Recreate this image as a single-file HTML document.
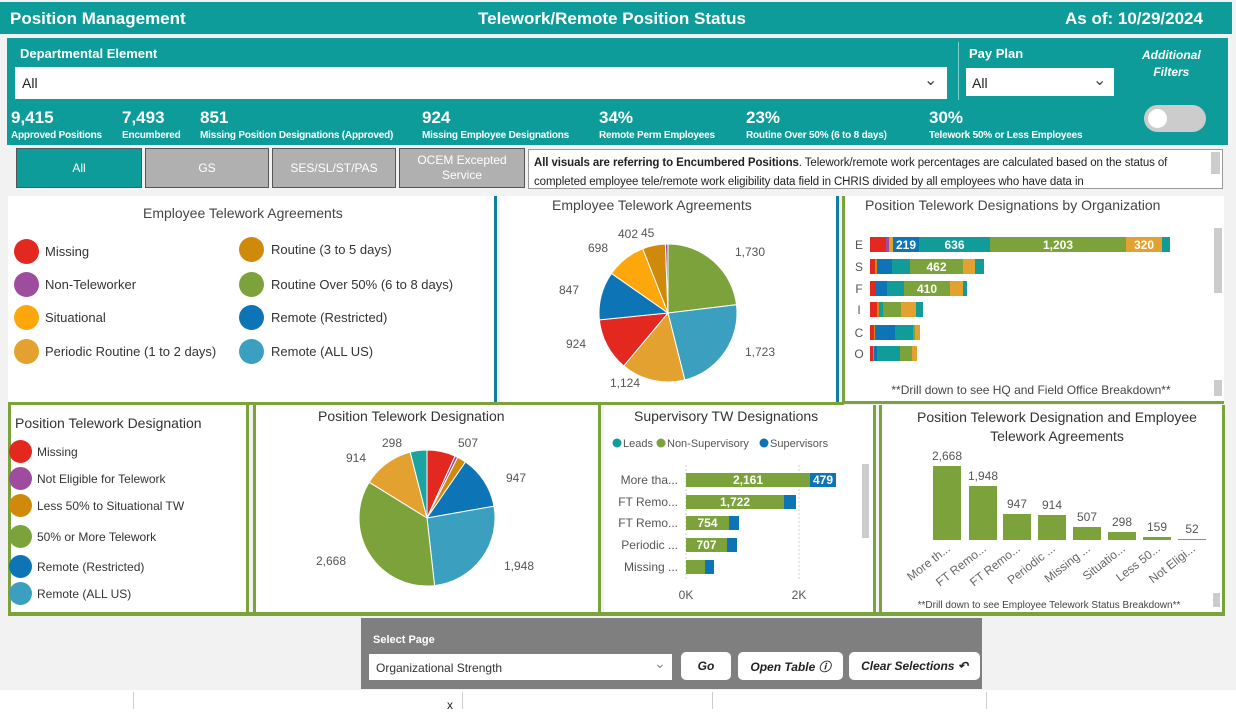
<!DOCTYPE html>
<html><head><meta charset="utf-8">
<style>
*{margin:0;padding:0;box-sizing:border-box}
body{width:1236px;height:709px;position:relative;overflow:hidden;background:#fff;font-family:"Liberation Sans",sans-serif;color:#333}
.a{position:absolute;white-space:nowrap}
.t{color:#fff}
.b{font-weight:bold}
.k{font-size:10px;letter-spacing:-0.2px}
.tab{position:absolute;top:148px;height:40px;border:1px solid #555;font-size:12px;text-align:center;display:flex;align-items:center;justify-content:center;line-height:15px}
.panel{position:absolute;background:#fff}
.lg{position:absolute;font-size:13px;color:#333}
.dot{position:absolute;border-radius:50%}
.btn{position:absolute;top:652px;height:28px;background:#fff;border-radius:5px;font-size:12px;font-weight:bold;font-style:italic;display:flex;align-items:center;justify-content:center;color:#222}
</style></head><body>
<div class="a" style="left:0;top:0;width:1236px;height:709px;background:#f2f2f2"></div>
<div class="a" style="left:0;top:2px;width:1232px;height:32px;background:#0e9c9a"></div>
<div class="a t b" style="left:10px;top:9px;font-size:17px">Position Management</div>
<div class="a t b" style="left:478px;top:9px;font-size:17px">Telework/Remote Position Status</div>
<div class="a t b" style="left:1065px;top:9px;font-size:17px">As of: 10/29/2024</div>
<div class="a" style="left:7px;top:38px;width:1221px;height:107px;background:#0e9c9a"></div>
<div class="a t b" style="left:20px;top:46px;font-size:13px">Departmental Element</div>
<div class="a" style="left:15px;top:67px;width:932px;height:32px;background:#fff"></div>
<div class="a" style="left:22px;top:75px;font-size:14px;color:#222">All</div>
<div class="a" style="left:924px;top:70px;font-size:16px;color:#444">&#8964;</div>
<div class="a" style="left:958px;top:42px;width:1px;height:58px;background:#7fcfcd"></div>
<div class="a t b" style="left:969px;top:46px;font-size:13px">Pay Plan</div>
<div class="a" style="left:966px;top:68px;width:148px;height:28px;background:#fff"></div>
<div class="a" style="left:972px;top:75px;font-size:14px;color:#222">All</div>
<div class="a" style="left:1093px;top:70px;font-size:16px;color:#444">&#8964;</div>
<div class="a t b" style="left:1142px;top:47px;font-size:12px;font-style:italic;text-align:center;line-height:17px">Additional<br>Filters</div>
<div class="a" style="left:1144px;top:105px;width:62px;height:27px;border-radius:14px;background:#ccc"></div>
<div class="a" style="left:1148px;top:109px;width:19px;height:19px;border-radius:50%;background:#fff"></div>
<div class="a t b" style="left:11px;top:108px;font-size:17px">9,415</div><div class="a t b k" style="left:11px;top:130px">Approved Positions</div>
<div class="a t b" style="left:122px;top:108px;font-size:17px">7,493</div><div class="a t b k" style="left:122px;top:130px">Encumbered</div>
<div class="a t b" style="left:200px;top:108px;font-size:17px">851</div><div class="a t b k" style="left:200px;top:130px">Missing Position Designations (Approved)</div>
<div class="a t b" style="left:422px;top:108px;font-size:17px">924</div><div class="a t b k" style="left:422px;top:130px">Missing Employee Designations</div>
<div class="a t b" style="left:599px;top:108px;font-size:17px">34%</div><div class="a t b k" style="left:599px;top:130px">Remote Perm Employees</div>
<div class="a t b" style="left:746px;top:108px;font-size:17px">23%</div><div class="a t b k" style="left:746px;top:130px">Routine Over 50% (6 to 8 days)</div>
<div class="a t b" style="left:929px;top:108px;font-size:17px">30%</div><div class="a t b k" style="left:929px;top:130px">Telework 50% or Less Employees</div>
<div class="tab" style="left:16px;width:126px;background:#0e9c9a;color:#fff">All</div>
<div class="tab" style="left:145px;width:124px;background:#b0b0b0;color:#fff">GS</div>
<div class="tab" style="left:272px;width:124px;background:#b0b0b0;color:#fff">SES/SL/ST/PAS</div>
<div class="tab" style="left:399px;width:126px;background:#b0b0b0;color:#fff">OCEM Excepted<br>Service</div>
<div class="a" style="left:528px;top:149px;width:695px;height:40px;background:#fff;border:1px solid #999;overflow:hidden"></div>
<div class="a" style="left:534px;top:154px;font-size:11.5px;color:#222;line-height:19px;width:675px;height:34px;overflow:hidden;white-space:normal;letter-spacing:-0.1px"><b>All visuals are referring to Encumbered Positions</b>. Telework/remote work percentages are calculated based on the status of completed employee tele/remote work eligibility data field in CHRIS divided by all employees who have data in</div>
<div class="a" style="left:1211px;top:152px;width:9px;height:22px;background:#ccc"></div>
<div class="panel" style="left:8px;top:196px;width:486px;height:206px"></div>
<div class="a" style="left:494px;top:196px;width:3px;height:206px;background:#0e7fa3"></div>
<div class="panel" style="left:500px;top:196px;width:336px;height:206px"></div>
<div class="a" style="left:836px;top:196px;width:3px;height:206px;background:#0e7fa3"></div>
<div class="panel" style="left:842px;top:196px;width:382px;height:208px;border-left:3px solid #7ca23b;border-bottom:3px solid #7ca23b"></div>
<div class="a" style="left:8px;top:402px;width:836px;height:3px;background:#7ca23b"></div>
<div class="a" style="left:143px;top:205px;font-size:14px;color:#444">Employee Telework Agreements</div>
<div class="dot" style="left:14px;top:239px;width:25px;height:25px;background:#e3281f"></div><div class="lg" style="left:45px;top:244px">Missing</div>
<div class="dot" style="left:14px;top:272px;width:25px;height:25px;background:#9e4c9e"></div><div class="lg" style="left:45px;top:277px">Non-Teleworker</div>
<div class="dot" style="left:14px;top:305px;width:25px;height:25px;background:#fda70c"></div><div class="lg" style="left:45px;top:310px">Situational</div>
<div class="dot" style="left:14px;top:339px;width:25px;height:25px;background:#e3a12f"></div><div class="lg" style="left:45px;top:344px">Periodic Routine (1 to 2 days)</div>
<div class="dot" style="left:239px;top:237px;width:25px;height:25px;background:#d08a0b"></div><div class="lg" style="left:271px;top:242px">Routine (3 to 5 days)</div>
<div class="dot" style="left:239px;top:272px;width:25px;height:25px;background:#7ca23b"></div><div class="lg" style="left:271px;top:277px">Routine Over 50% (6 to 8 days)</div>
<div class="dot" style="left:239px;top:305px;width:25px;height:25px;background:#0d74b5"></div><div class="lg" style="left:271px;top:310px">Remote (Restricted)</div>
<div class="dot" style="left:239px;top:339px;width:25px;height:25px;background:#3b9fc0"></div><div class="lg" style="left:271px;top:344px">Remote (ALL US)</div>
<div class="a" style="left:552px;top:197px;font-size:14px;color:#444">Employee Telework Agreements</div>
<svg class="a" id="p1" style="left:500px;top:196px" width="336" height="206"></svg>
<div class="a" style="left:865px;top:197px;font-size:14px;color:#444">Position Telework Designations by Organization</div>
<svg class="a" style="left:845px;top:196px" width="379" height="206" id="org"></svg>
<div class="panel" style="left:8px;top:405px;width:241px;height:208px;border-left:3px solid #7ca23b;border-right:3px solid #7ca23b"></div>
<div class="panel" style="left:253px;top:405px;width:348px;height:208px;border-left:3px solid #7ca23b;border-right:3px solid #7ca23b"></div>
<div class="panel" style="left:604px;top:405px;width:272px;height:208px;border-right:3px solid #7ca23b"></div>
<div class="panel" style="left:879px;top:405px;width:346px;height:208px;border-left:3px solid #7ca23b;border-right:3px solid #7ca23b"></div>
<div class="a" style="left:8px;top:612px;width:1217px;height:4px;background:#7ca23b"></div>
<div class="a" style="left:15px;top:415px;font-size:14px;color:#333">Position Telework Designation</div>
<div class="dot" style="left:9px;top:440px;width:23px;height:23px;background:#e3281f"></div><div class="lg" style="left:37px;top:445px;font-size:12px">Missing</div>
<div class="dot" style="left:9px;top:467px;width:23px;height:23px;background:#9e4c9e"></div><div class="lg" style="left:37px;top:472px;font-size:12px">Not Eligible for Telework</div>
<div class="dot" style="left:9px;top:494px;width:23px;height:23px;background:#d08a0b"></div><div class="lg" style="left:37px;top:499px;font-size:12px">Less 50% to Situational TW</div>
<div class="dot" style="left:9px;top:525px;width:23px;height:23px;background:#7ca23b"></div><div class="lg" style="left:37px;top:530px;font-size:12px">50% or More Telework</div>
<div class="dot" style="left:9px;top:555px;width:23px;height:23px;background:#0d74b5"></div><div class="lg" style="left:37px;top:560px;font-size:12px">Remote (Restricted)</div>
<div class="dot" style="left:9px;top:582px;width:23px;height:23px;background:#3b9fc0"></div><div class="lg" style="left:37px;top:587px;font-size:12px">Remote (ALL US)</div>
<div class="a" style="left:318px;top:408px;font-size:14px;color:#333">Position Telework Designation</div>
<svg class="a" id="p2" style="left:256px;top:405px" width="342" height="206"></svg>
<div class="a" style="left:634px;top:408px;font-size:14px;color:#333">Supervisory TW Designations</div>
<svg class="a" style="left:604px;top:405px" width="270" height="206" id="sup"></svg>
<div class="a" style="left:892px;top:408px;font-size:14px;color:#333;text-align:center;width:330px;line-height:19px;white-space:normal">Position Telework Designation and Employee Telework Agreements</div>
<svg class="a" style="left:882px;top:405px" width="340" height="206" id="col"></svg>
<div class="a" style="left:361px;top:618px;width:621px;height:71px;background:#7f7f7f"></div>
<div class="a t b" style="left:373px;top:634px;font-size:11px">Select Page</div>
<div class="a" style="left:369px;top:654px;width:303px;height:26px;background:#fff"></div>
<div class="a" style="left:376px;top:661px;font-size:12px;color:#333">Organizational Strength</div>
<div class="a" style="left:654px;top:655px;font-size:14px;color:#888">&#8964;</div>
<div class="btn" style="left:681px;width:50px">Go</div>
<div class="btn" style="left:738px;width:105px">Open Table &#9432;</div>
<div class="btn" style="left:849px;width:131px">Clear Selections &#8630;</div>
<div class="a" style="left:0;top:690px;width:1236px;height:19px;background:#fff"></div>
<div class="a" style="left:133px;top:692px;width:1px;height:17px;background:#ccc"></div>
<div class="a" style="left:462px;top:692px;width:1px;height:17px;background:#ccc"></div>
<div class="a" style="left:712px;top:692px;width:1px;height:17px;background:#ccc"></div>
<div class="a" style="left:986px;top:692px;width:1px;height:17px;background:#ccc"></div>
<div class="a" style="left:447px;top:698px;font-size:12px;color:#222">x</div>
<script>
var NS="http://www.w3.org/2000/svg";
function el(svg,tag,at,txt){var e=document.createElementNS(NS,tag);for(var k in at)e.setAttribute(k,at[k]);if(txt!==undefined)e.textContent=txt;svg.appendChild(e);return e;}
function pie(id,cx,cy,r,data,labels){var s=document.getElementById(id);var tot=data.reduce(function(a,d){return a+d[0]},0);var a0=-Math.PI/2;
data.forEach(function(d){var a1=a0+d[0]/tot*2*Math.PI;var x0=cx+r*Math.cos(a0),y0=cy+r*Math.sin(a0),x1=cx+r*Math.cos(a1),y1=cy+r*Math.sin(a1);
el(s,"path",{d:"M"+cx+","+cy+"L"+x0+","+y0+"A"+r+","+r+" 0 "+((a1-a0)>Math.PI?1:0)+" 1 "+x1+","+y1+"Z",fill:d[1],stroke:"#fff","stroke-width":1});a0=a1;});
labels.forEach(function(l){el(s,"text",{x:l[0],y:l[1],"font-size":12,fill:"#555","font-family":"Liberation Sans","text-anchor":l[3]||"start"},l[2]);});}
pie("p1",168,117,69,[[1730,"#7ca23b"],[1723,"#3b9fc0"],[1124,"#e3a12f"],[924,"#e3281f"],[847,"#0d74b5"],[698,"#fda70c"],[402,"#d08a0b"],[45,"#9e4c9e"]],
[[235,60,"1,730"],[245,160,"1,723"],[110,191,"1,124"],[86,152,"924","end"],[79,98,"847","end"],[108,56,"698","end"],[138,42,"402","end"],[141,41,"45"]]);
pie("p2",171,113,68,[[507,"#e3281f"],[52,"#9e4c9e"],[159,"#d08a0b"],[947,"#0d74b5"],[1948,"#3b9fc0"],[2668,"#7ca23b"],[914,"#e3a12f"],[298,"#1aa3a0"]],
[[202,42,"507"],[250,77,"947"],[248,165,"1,948"],[90,160,"2,668","end"],[110,57,"914","end"],[146,42,"298","end"]]);
(function(){var s=document.getElementById("org"),ox=845,oy=196;
var C={r:"#e3281f",p:"#9e4c9e",o:"#d08a0b",g:"#e3a12f",b:"#0d74b5",t:"#119c9a",G:"#7ca23b",T:"#1aa3a0"};
var rows=[["E",244,[[870,886,"r"],[886,889,"p"],[889,893,"g"],[893,919,"b","219"],[919,990,"t","636"],[990,1126,"G","1,203"],[1126,1162,"g","320"],[1162,1170,"t"]]],
["S",266,[[870,875,"r"],[875,877,"o"],[877,892,"b"],[892,910,"t"],[910,963,"G","462"],[963,975,"g"],[975,984,"t"]]],
["F",288,[[870,875,"r"],[875,887,"b"],[887,904,"t"],[904,950,"G","410"],[950,963,"g"],[963,967,"t"]]],
["I",309,[[870,877,"r"],[877,879,"o"],[879,883,"t"],[883,901,"G"],[901,916,"g"],[916,923,"t"]]],
["C",332,[[870,874,"r"],[874,875,"o"],[875,895,"b"],[895,913,"t"],[913,915,"G"],[915,920,"g"]]],
["O",353,[[870,873,"r"],[873,874,"o"],[874,877,"b"],[877,900,"t"],[900,912,"G"],[912,917,"g"]]]];
rows.forEach(function(r){var y=r[1]-oy;el(s,"text",{x:859-ox,y:y+5,"font-size":12,fill:"#555","text-anchor":"middle"},r[0]);
r[2].forEach(function(g){el(s,"rect",{x:g[0]-ox,y:y-7,width:g[1]-g[0],height:15,fill:C[g[2]]});if(g[3])el(s,"text",{x:(g[0]+g[1])/2-ox,y:y+5,"font-size":12,"font-weight":"bold",fill:"#fff","text-anchor":"middle"},g[3]);});});
el(s,"rect",{x:1214-ox,y:228-oy,width:8,height:65,fill:"#ccc"});
el(s,"rect",{x:1214-ox,y:380-oy,width:8,height:16,fill:"#ccc"});
el(s,"text",{x:1031-ox,y:394-oy,"font-size":12,fill:"#444","text-anchor":"middle"},"**Drill down to see HQ and Field Office Breakdown**");})();
(function(){var s=document.getElementById("sup"),ox=604,oy=405;
el(s,"circle",{cx:617-ox,cy:443-oy,r:4.5,fill:"#119c9a"});el(s,"text",{x:623-ox,y:447-oy,"font-size":11,fill:"#555"},"Leads");
el(s,"circle",{cx:661-ox,cy:443-oy,r:4.5,fill:"#7ca23b"});el(s,"text",{x:667-ox,y:447-oy,"font-size":11,fill:"#555"},"Non-Supervisory");
el(s,"circle",{cx:764-ox,cy:443-oy,r:4.5,fill:"#0d74b5"});el(s,"text",{x:770-ox,y:447-oy,"font-size":11,fill:"#555"},"Supervisors");
[686,799].forEach(function(x){el(s,"line",{x1:x-ox,y1:465-oy,x2:x-ox,y2:580-oy,stroke:"#ccc","stroke-dasharray":"2,2"});});
var rows=[["More tha...",480,810,836,"2,161","479"],["FT Remo...",502,784,796,"1,722"],["FT Remo...",523,729,739,"754"],["Periodic ...",545,727,737,"707"],["Missing ...",567,705,714]];
rows.forEach(function(r){var y=r[1]-oy;el(s,"text",{x:678-ox,y:y+4,"font-size":12,fill:"#555","text-anchor":"end"},r[0]);
el(s,"rect",{x:686-ox,y:y-7,width:r[2]-686,height:14,fill:"#7ca23b"});el(s,"rect",{x:r[2]-ox,y:y-7,width:r[3]-r[2],height:14,fill:"#0d74b5"});
if(r[4])el(s,"text",{x:(686+r[2])/2-ox,y:y+4,"font-size":12,"font-weight":"bold",fill:"#fff","text-anchor":"middle"},r[4]);
if(r[5])el(s,"text",{x:(r[2]+r[3])/2-ox,y:y+4,"font-size":12,"font-weight":"bold",fill:"#fff","text-anchor":"middle"},r[5]);});
el(s,"text",{x:686-ox,y:599-oy,"font-size":12,fill:"#555","text-anchor":"middle"},"0K");
el(s,"text",{x:799-ox,y:599-oy,"font-size":12,fill:"#555","text-anchor":"middle"},"2K");
el(s,"rect",{x:862-ox,y:464-oy,width:7,height:74,fill:"#ccc"});})();
(function(){var s=document.getElementById("col"),ox=882,oy=405;
var d=[[933,466,"2,668","More th..."],[969,486,"1,948","FT Remo..."],[1003,514,"947","FT Remo..."],[1038,515,"914","Periodic ..."],[1073,527,"507","Missing ..."],[1108,532,"298","Situatio..."],[1143,537,"159","Less 50..."],[1178,539,"52","Not Eligi..."]];
d.forEach(function(b){var w=28;el(s,"rect",{x:b[0]-ox,y:b[1]-oy,width:w,height:540-b[1],fill:"#7ca23b"});
el(s,"text",{x:b[0]+14-ox,y:b[1]-6-oy,"font-size":12,fill:"#555","text-anchor":"middle"},b[2]);
var tx=b[0]+18-ox,ty=550-oy;el(s,"text",{x:tx,y:ty,"font-size":12,fill:"#666","text-anchor":"end",transform:"rotate(-38 "+tx+" "+ty+")"},b[3]);});
el(s,"rect",{x:1213-ox,y:593-oy,width:7,height:14,fill:"#ccc"});
el(s,"text",{x:1049-ox,y:608-oy,"font-size":10,fill:"#444","text-anchor":"middle"},"**Drill down to see Employee Telework Status Breakdown**");})();
</script>
</body></html>
